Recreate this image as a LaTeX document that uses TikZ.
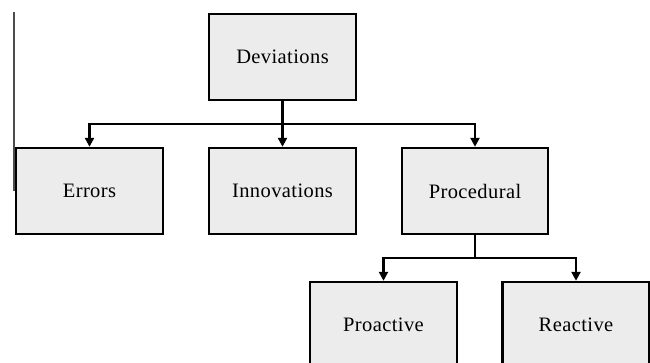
\documentclass[tikz,border=0pt]{standalone}
\usepackage{fontspec}
\setmainfont{Liberation Serif}[LetterSpace=2]
\usetikzlibrary{arrows.meta}
\begin{document}
\begin{tikzpicture}[x=1pt,y=-1pt,
  box/.style={draw=black,line width=2.4pt,fill=gray!15,inner sep=0pt,font=\fontsize{20.5}{24}\selectfont},
  conn/.style={draw=black,line width=2.4pt},
  arr/.style={conn,-{Triangle[length=9pt,width=9pt]}}]
\useasboundingbox (0,0) rectangle (650,363);
\clip (0,0) rectangle (650,363);
\draw[gray!60!black,line width=1.2pt] (14,12) -- (14,191);
\node[box,minimum width=147pt,minimum height=86pt] (dev) at (282.5,57) {Deviations};
\node[box,minimum width=147pt,minimum height=86pt] (err) at (89.5,191) {Errors};
\node[box,minimum width=147pt,minimum height=86pt] (inn) at (282.5,191) {Innovations};
\node[box,minimum width=146pt,minimum height=86pt] (pro) at (475,191) {Procedural};
\node[box,minimum width=147pt,minimum height=86pt] (pa) at (383.5,325) {Proactive};
\node[box,minimum width=147pt,minimum height=86pt] (re) at (576,325) {Reactive};
\coordinate (j1) at (282.5,124);
\coordinate (j2) at (475,258);
\draw[conn] (dev.south) -- (j1);
\draw[arr] (j1) -| (err.north);
\draw[arr] (j1) -- (inn.north);
\draw[arr] (j1) -| (pro.north);
\draw[conn] (pro.south) -- (j2);
\draw[arr] (j2) -| (pa.north);
\draw[arr] (j2) -| (re.north);
\end{tikzpicture}
\end{document}
